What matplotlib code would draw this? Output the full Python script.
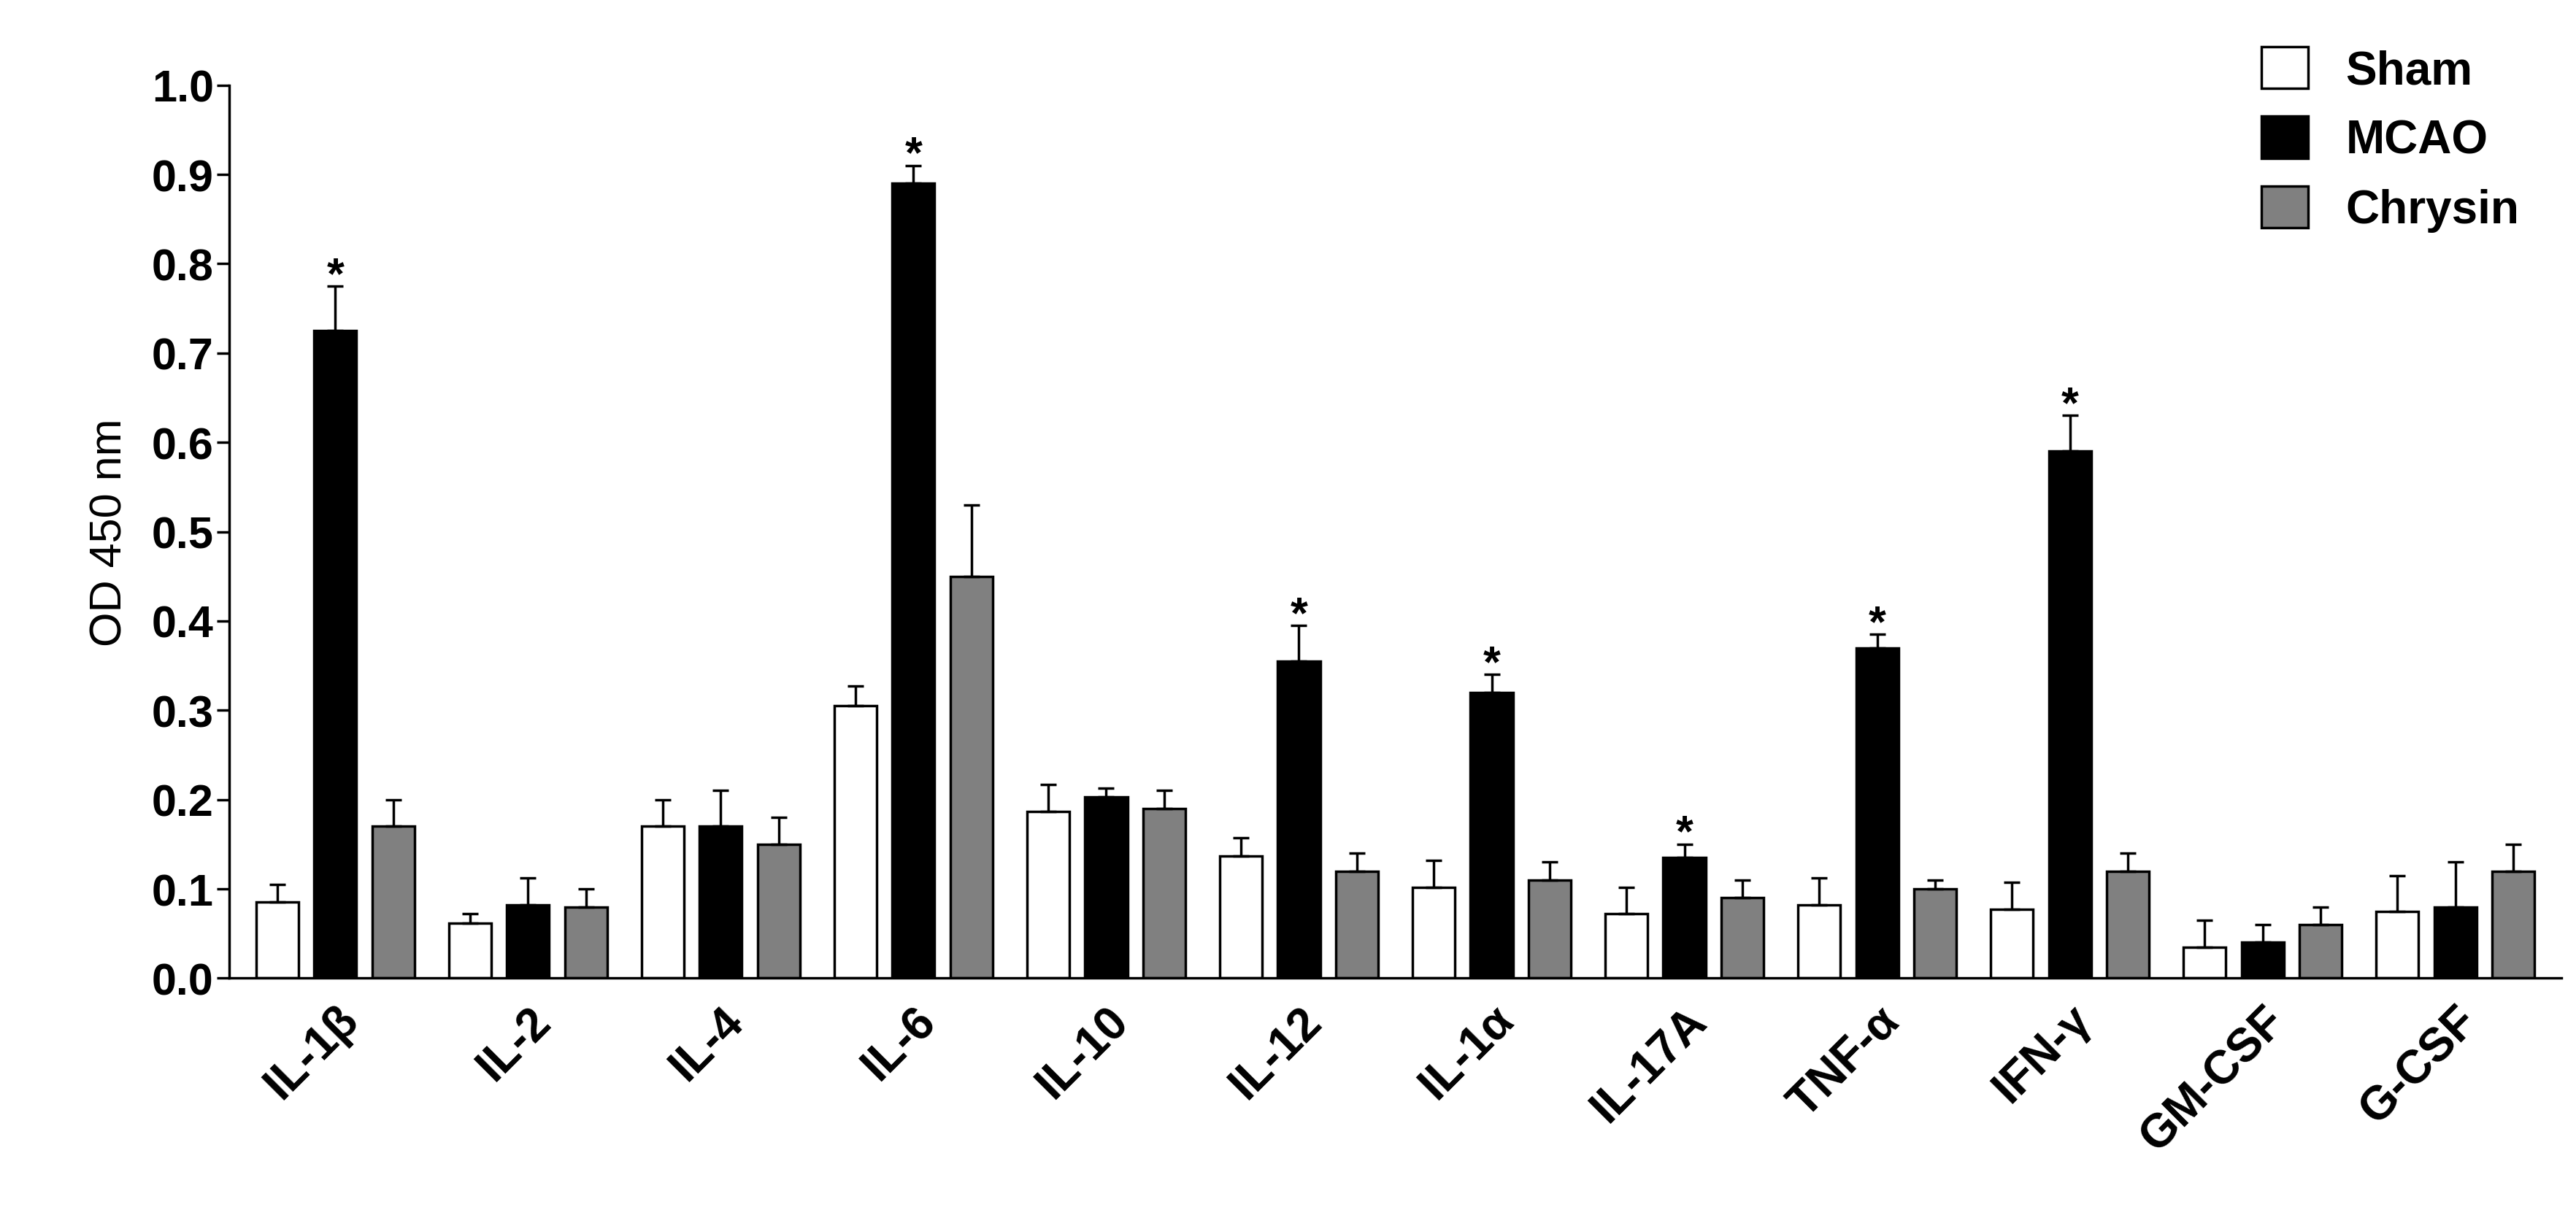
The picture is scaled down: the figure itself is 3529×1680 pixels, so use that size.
import matplotlib

matplotlib.use("Agg")
import matplotlib.pyplot as plt
import numpy as np

categories = ["IL-1$\\beta$", "IL-2", "IL-4", "IL-6", "IL-10", "IL-12", "IL-1$\\alpha$",
              "IL-17A", "TNF-$\\alpha$", "IFN-$\\gamma$", "GM-CSF", "G-CSF"]
sham = [0.085, 0.062, 0.170, 0.305, 0.187, 0.137, 0.102, 0.072, 0.082, 0.077, 0.035, 0.075]
sham_err = [0.020, 0.010, 0.030, 0.022, 0.030, 0.020, 0.030, 0.030, 0.030, 0.030, 0.030, 0.040]
mcao = [0.725, 0.082, 0.170, 0.890, 0.203, 0.355, 0.320, 0.135, 0.370, 0.590, 0.040, 0.080]
mcao_err = [0.050, 0.030, 0.040, 0.020, 0.010, 0.040, 0.020, 0.015, 0.015, 0.040, 0.020, 0.050]
chrysin = [0.170, 0.080, 0.150, 0.450, 0.190, 0.120, 0.110, 0.090, 0.100, 0.120, 0.060, 0.120]
chrysin_err = [0.030, 0.020, 0.030, 0.080, 0.020, 0.020, 0.020, 0.020, 0.010, 0.020, 0.020, 0.030]
significant = [True, False, False, True, False, True, True, True, True, True, False, False]

plt.rcParams["font.family"] = "Liberation Sans"
plt.rcParams["font.weight"] = "bold"
plt.rcParams["mathtext.fontset"] = "custom"
plt.rcParams["mathtext.rm"] = "Liberation Sans:bold"
plt.rcParams["mathtext.it"] = "Liberation Sans:bold"

fig = plt.figure(figsize=(35.3, 16.81), dpi=100)
ax = fig.add_axes([0.089, 0.202, 0.905, 0.728])

xs = np.arange(len(categories))
w = 0.22
off = 0.3
ekw = dict(elinewidth=2.5, capsize=8, capthick=2.5, ecolor="black")
for vals, errs, color, label, dx in [
    (sham, sham_err, "white", "Sham", -off),
    (mcao, mcao_err, "black", "MCAO", 0),
    (chrysin, chrysin_err, "#808080", "Chrysin", off),
]:
    ax.bar(xs + dx, vals, w, color=color, edgecolor="black", linewidth=2.5, label=label,
           yerr=[np.zeros(len(errs)), errs], error_kw=ekw)

for x, v, e, s in zip(xs, mcao, mcao_err, significant):
    if s:
        ax.text(x, v + e - 0.012, "*", ha="center", va="bottom", fontsize=44)

ax.set_xlim(-0.55, len(categories) - 0.45)
ax.set_ylim(0, 1.0)
ax.set_yticks(np.arange(0, 1.01, 0.1))
ax.set_yticklabels([f"{t:.1f}" for t in np.arange(0, 1.01, 0.1)], fontsize=44)
ax.set_xticks(xs)
ax.set_xticklabels(categories, rotation=45, ha="right", rotation_mode="anchor", fontsize=46)
ax.tick_params(axis="x", length=0, pad=20)
ax.tick_params(axis="y", width=2.5, length=12)
ax.set_ylabel("OD 450 nm", fontsize=44, labelpad=20)
for sp in ["top", "right"]:
    ax.spines[sp].set_visible(False)
for sp in ["left", "bottom"]:
    ax.spines[sp].set_linewidth(2.5)

ax.legend(loc="upper right", bbox_to_anchor=(1.0, 1.09), frameon=False, fontsize=46,
          handlelength=1.0, handleheight=1.0, labelspacing=0.5)

fig.savefig("out.png", dpi=100)
